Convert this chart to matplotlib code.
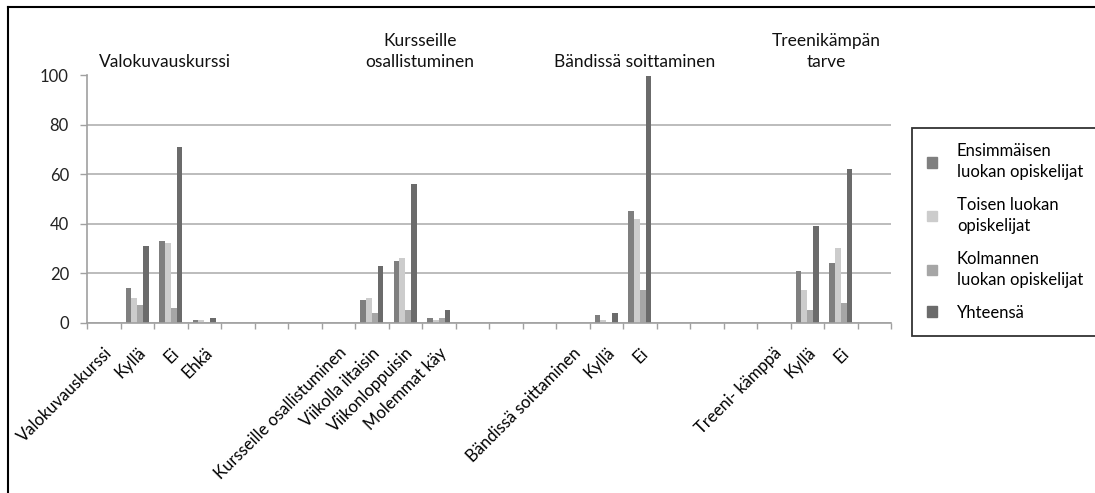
import numpy as np
import matplotlib
matplotlib.use('Agg')
import matplotlib.pyplot as plt
from matplotlib.patches import Patch
from matplotlib.lines import Line2D

plt.rcParams['font.family'] = ['Lato', 'DejaVu Sans']

# 24 luokkaa x-akselilla (tyhjät välit mukana)
categories = ['Valokuvauskurssi', 'Kyllä', 'Ei', 'Ehkä', '', '', '',
              'Kursseille osallistuminen', 'Viikolla iltaisin', 'Viikonloppuisin', 'Molemmat käy', '', '', '',
              'Bändissä soittaminen', 'Kyllä', 'Ei', '', '', '',
              'Treeni- kämppä', 'Kyllä', 'Ei', '']

ensimmaiset = [0, 14, 33, 1, 0, 0, 0, 0, 9, 25, 2, 0, 0, 0, 0, 3, 45, 0, 0, 0, 0, 21, 24, 0]
toiset      = [0, 10, 32, 1, 0, 0, 0, 0, 10, 26, 1, 0, 0, 0, 0, 1, 42, 0, 0, 0, 0, 13, 30, 0]
kolmannet   = [0, 7, 6, 0, 0, 0, 0, 0, 4, 5, 2, 0, 0, 0, 0, 0, 13, 0, 0, 0, 0, 5, 8, 0]
yhteensa    = [0, 31, 71, 2, 0, 0, 0, 0, 23, 56, 5, 0, 0, 0, 0, 4, 100, 0, 0, 0, 0, 39, 62, 0]

series_names = ['Ensimmäisen\nluokan opiskelijat', 'Toisen luokan\nopiskelijat',
                'Kolmannen\nluokan opiskelijat', 'Yhteensä']
colors = ['#7f7f7f', '#cccccc', '#a6a6a6', '#6b6b6b']

group_titles = ['Valokuvauskurssi', 'Kursseille\nosallistuminen', 'Bändissä soittaminen', 'Treenikämpän\ntarve']
title_x = [165, 420, 635, 826]   # pikseleinä

W, H = 1095, 493
fig = plt.figure(figsize=(W / 100, H / 100), dpi=100)
ax = fig.add_axes([87 / W, 1 - 322.5 / H, (891 - 87) / W, (322.5 - 75.5) / H])

x = np.arange(len(categories))
bw = 0.175
data = [ensimmaiset, toiset, kolmannet, yhteensa]
for i in range(4):
    ax.bar(x + (i - 1.5) * bw, data[i], width=bw, color=colors[i], label=series_names[i])

ax.set_xlim(-0.5, len(categories) - 0.5)
ax.set_ylim(0, 100)
ax.set_yticks(range(0, 101, 20))
ax.yaxis.grid(True, color='#b0b0b0', linewidth=1.2)
ax.set_axisbelow(True)

ax.set_xticks(x)
ax.set_xticklabels(categories, rotation=45, ha='right', rotation_mode='anchor', fontsize=12)
ax.tick_params(axis='x', length=0, pad=16)
ax.set_xticks(np.arange(-0.5, len(categories)), minor=True)
ax.tick_params(axis='x', which='minor', length=4, color='#a0a0a0', width=1)
ax.tick_params(axis='y', length=5, color='#a0a0a0', width=1, labelsize=12, pad=8, labelcolor='#222222')

for s in ['top', 'right']:
    ax.spines[s].set_visible(False)
for s in ['left', 'bottom']:
    ax.spines[s].set_color('#a0a0a0')
    ax.spines[s].set_linewidth(1.2)

for t, px in zip(group_titles, title_x):
    fig.text(px / W, 1 - 70 / H, t, ha='center', va='bottom', fontsize=12.5,
             linespacing=1.35, color='#111111')

leg = fig.legend(handles=[Patch(color=c) for c in colors], labels=series_names,
                 loc='upper left', bbox_to_anchor=(912 / W, 1 - 128 / H),
                 fontsize=12, frameon=True, fancybox=False, handlelength=0.6,
                 handleheight=0.6, handletextpad=1.2, labelspacing=1.0,
                 borderpad=0.9, borderaxespad=0)
for t in leg.get_texts():
    t.set_linespacing(1.4)
leg.get_frame().set_edgecolor('black')
leg.get_frame().set_linewidth(1.3)

# kuvan kehys
fig.add_artist(Line2D([8 / W, 1], [1 - 6.5 / H, 1 - 6.5 / H], color='black', linewidth=1.5))
fig.add_artist(Line2D([8 / W, 8 / W], [0, 1 - 6.5 / H], color='black', linewidth=1.5))

fig.savefig('out.png', dpi=100)
